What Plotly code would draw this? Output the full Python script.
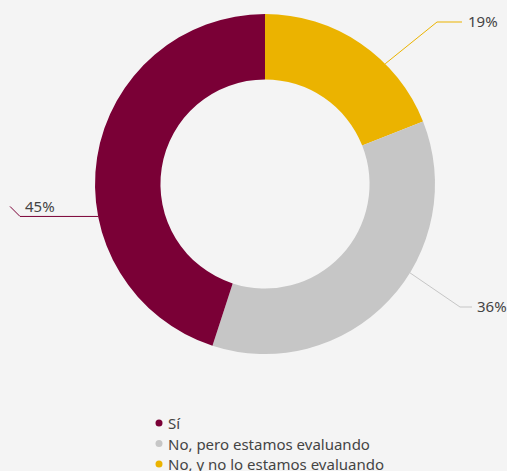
import math
import plotly.graph_objects as go

# Survey answers, in clockwise order from 12 o'clock
labels = ["No, y no lo estamos evaluando", "No, pero estamos evaluando", "Sí"]
values = [19, 36, 45]
colors = ["#EBB300", "#C6C6C6", "#7A0036"]

# Legend order
legend_order = ["Sí", "No, pero estamos evaluando", "No, y no lo estamos evaluando"]

W, H = 507, 471
cx, cy, R = 265, 184, 170
hole = 0.615
label_font = dict(family="Noto Sans", size=15, color="#444444")

fig = go.Figure()

# Pixel overlay axis for connectors and legend
fig.update_layout(
    xaxis=dict(range=[0, W], visible=False, fixedrange=True, domain=[0, 1]),
    yaxis=dict(range=[H, 0], visible=False, fixedrange=True, domain=[0, 1]),
)

fig.add_trace(go.Pie(
    labels=labels,
    values=values,
    marker=dict(colors=colors, line=dict(color="#F4F4F4", width=0)),
    hole=hole,
    sort=False,
    direction="clockwise",
    rotation=0,
    textinfo="none",
    hoverinfo="label+percent",
    showlegend=False,
    domain=dict(x=[(cx - R) / W, (cx + R) / W], y=[1 - (cy + R) / H, 1 - (cy - R) / H]),
))

# Connector routing: angle (deg, clockwise from top) where the leader leaves the ring,
# then the elbow / end points and where the percentage text sits
routes = {
    "No, y no lo estamos evaluando": dict(angle=45, path=[(437, 22), (462, 22)], text=(466, 21)),
    "No, pero estamos evaluando": dict(angle=121.5, path=[(460, 307), (472, 307)], text=(475, 306)),
    "Sí": dict(angle=259, path=None, text=None),
}

total = sum(values)
annotations = []
for lab, val, col in zip(labels, values, colors):
    r = routes[lab]
    a = math.radians(r["angle"])
    ax = cx + R * math.sin(a)
    ay = cy - R * math.cos(a)
    pct = f"{round(val / total * 100)}%"
    if r["path"] is not None:
        xs = [ax] + [p[0] for p in r["path"]]
        ys = [ay] + [p[1] for p in r["path"]]
        tx, ty = r["text"]
    else:
        # left-hand label sits above a horizontal leader with a short hook
        xs = [ax, 20, 10]
        ys = [ay, ay, ay - 10]
        tx, ty = 23, ay - 10
    annotations.append(dict(x=tx, y=ty, xref="x", yref="y", text=pct, showarrow=False,
                            xanchor="left", yanchor="middle", font=label_font))
    fig.add_trace(go.Scatter(x=xs, y=ys, mode="lines", line=dict(color=col, width=1),
                             hoverinfo="skip", showlegend=False))

# Legend: dots plus labels
lx, ly0, dy = 159, 423, 20.5
color_of = dict(zip(labels, colors))
for i, lab in enumerate(legend_order):
    y = ly0 + i * dy
    fig.add_trace(go.Scatter(x=[lx], y=[y], mode="markers",
                             marker=dict(color=color_of[lab], size=7),
                             hoverinfo="skip", showlegend=False))
    annotations.append(dict(x=lx + 7, y=y, xref="x", yref="y", text=lab, showarrow=False,
                            xanchor="left", yanchor="middle", font=label_font))

fig.update_layout(
    width=W, height=H,
    margin=dict(l=0, r=0, t=0, b=0, autoexpand=False),
    paper_bgcolor="#F4F4F4",
    plot_bgcolor="#F4F4F4",
    annotations=annotations,
    showlegend=False,
)

fig.write_html("out.html")
